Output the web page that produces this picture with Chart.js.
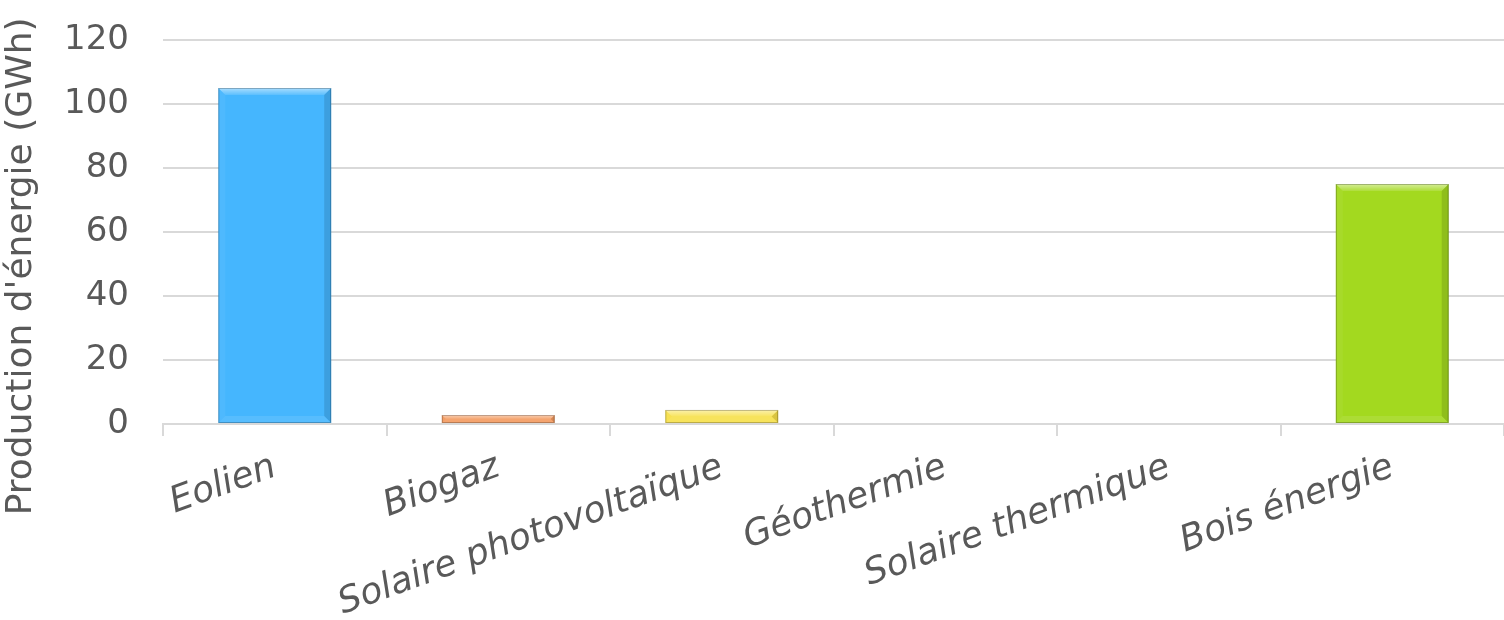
<!DOCTYPE html>
<html lang="fr">
<head>
<meta charset="utf-8">
<script src="https://cdn.jsdelivr.net/npm/chart.js@4/dist/chart.umd.min.js"></script>
<style>
  html, body { margin: 0; padding: 0; background: #ffffff; overflow: hidden; }
  canvas { display: block; }
</style>
</head>
<body>
<canvas id="chart" width="1504" height="620"></canvas>
<script>
// Production d'énergie renouvelable par filière (GWh)
const categories = ['Eolien', 'Biogaz', 'Solaire photovoltaïque', 'Géothermie', 'Solaire thermique', 'Bois énergie'];
const production = [105, 2.8, 4.4, 0, 0, 75];
const barColors = ['#45b6fe', '#f39a5f', '#f7e04a', '#8a8a8a', '#8a8a8a', '#a3d91f'];
const yTicks = [0, 20, 40, 60, 80, 100, 120];

const FONT = '"DejaVu Sans", sans-serif';
const TEXT = '#595959';
const GRID = '#d9d9d9';

// Bevelled edges on each bar, using the bar geometry computed by Chart.js
const bevelPlugin = {
  id: 'bevel',
  afterDatasetsDraw(chart) {
    const ctx = chart.ctx;
    chart.getDatasetMeta(0).data.forEach((bar) => {
      const p = bar.getProps(['x', 'y', 'base', 'width'], true);
      const l = p.x - p.width / 2, r = p.x + p.width / 2;
      const t = Math.min(p.y, p.base), b = Math.max(p.y, p.base);
      const h = b - t;
      if (h < 1) return;
      const d = Math.min(7, h / 2, p.width / 2);
      const poly = (pts, fill) => {
        ctx.beginPath();
        ctx.moveTo(pts[0][0], pts[0][1]);
        for (let i = 1; i < pts.length; i++) ctx.lineTo(pts[i][0], pts[i][1]);
        ctx.closePath();
        ctx.fillStyle = fill;
        ctx.fill();
      };
      ctx.save();
      const topGrad = ctx.createLinearGradient(0, t, 0, t + d);
      topGrad.addColorStop(0, 'rgba(255,255,255,0.55)');
      topGrad.addColorStop(1, 'rgba(255,255,255,0.12)');
      poly([[l, t], [r, t], [r - d, t + d], [l + d, t + d]], topGrad);
      poly([[l, b], [r, b], [r - d, b - d], [l + d, b - d]], 'rgba(255,255,255,0.10)');
      poly([[l, t], [l + d, t + d], [l + d, b - d], [l, b]], 'rgba(255,255,255,0.05)');
      poly([[r, t], [r - d, t + d], [r - d, b - d], [r, b]], 'rgba(0,0,0,0.12)');
      ctx.strokeStyle = 'rgba(0,0,0,0.24)';
      ctx.lineWidth = 1;
      ctx.strokeRect(l + 0.5, t + 0.5, p.width - 1, h - 1);
      ctx.restore();
    });
  }
};

new Chart(document.getElementById('chart'), {
  type: 'bar',
  data: {
    labels: categories,
    datasets: [{
      label: "Production d'énergie (GWh)",
      data: production,
      backgroundColor: barColors,
      borderWidth: 0,
      categoryPercentage: 1,
      barPercentage: 0.505
    }]
  },
  plugins: [bevelPlugin],
  options: {
    responsive: false,
    animation: false,
    devicePixelRatio: 1,
    layout: { padding: { top: 40, right: 0, left: 0, bottom: 0 } },
    plugins: { legend: { display: false }, tooltip: { enabled: false } },
    scales: {
      x: {
        offset: true,
        grid: {
          display: true,
          offset: true,
          drawOnChartArea: false,
          drawTicks: true,
          tickLength: 12,
          color: GRID,
          lineWidth: 2
        },
        border: { display: true, color: GRID, width: 2 },
        ticks: {
          color: TEXT,
          font: { family: FONT, size: 36, style: 'italic' },
          minRotation: 20,
          maxRotation: 20,
          padding: 10,
          autoSkip: false
        },
        afterFit(scale) {
          scale.height = 196;
          scale.paddingTop = 0;
        }
      },
      y: {
        min: 0,
        max: 120,
        afterBuildTicks(scale) { scale.ticks = yTicks.map(v => ({ value: v })); },
        grid: { color: GRID, lineWidth: 2, drawTicks: false },
        border: { display: false },
        ticks: {
          color: TEXT,
          font: { family: FONT, size: 34 },
          padding: 34
        },
        title: {
          display: true,
          // trailing spaces push the title down so it sits centred over axis + category labels
          text: "Production d'énergie (GWh)      ",
          color: TEXT,
          font: { family: FONT, size: 36 },
          padding: { top: 0, bottom: 0 }
        },
        afterFit(scale) {
          scale.width = 163;
          scale.paddingTop = 0;
          scale.paddingBottom = 0;
        }
      }
    }
  }
});
</script>
</body>
</html>
